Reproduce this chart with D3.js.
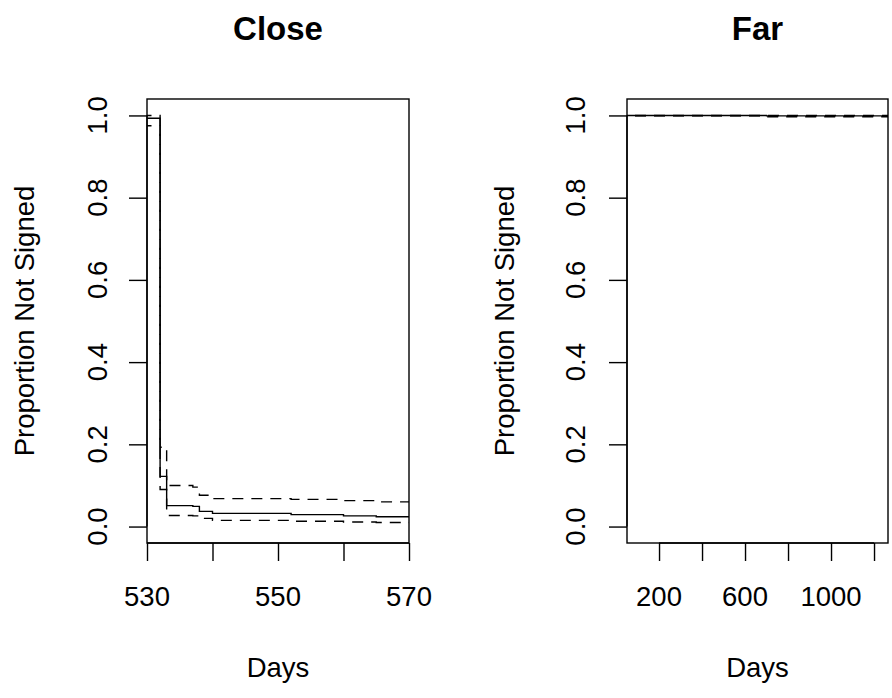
<!DOCTYPE html>
<html>
<head>
<meta charset="utf-8">
<script src="https://cdn.jsdelivr.net/npm/d3@7"></script>
<style>
  body { margin: 0; background: #fff; }
  svg { display: block; }
  text { font-family: "Liberation Sans", Arial, sans-serif; fill: #000; }
</style>
</head>
<body>
<div id="chart"></div>
<script>
// Kaplan-Meier style curves
var closeTime  = [500, 532, 533, 537, 538, 540, 552, 560, 565, 580];
var closeSurv  = [0.993, 0.122, 0.051, 0.049, 0.037, 0.032, 0.029, 0.026, 0.024, 0.024];
var closeUpper = [1.000, 0.193, 0.100, 0.096, 0.076, 0.068, 0.066, 0.063, 0.060, 0.060];
var closeLower = [0.975, 0.090, 0.027, 0.026, 0.020, 0.015, 0.013, 0.011, 0.010, 0.010];

var farTime  = [0, 700, 1400];
var farSurv  = [1.000, 0.999, 0.999];
var farUpper = [1.000, 1.000, 1.000];
var farLower = [0.999, 0.997, 0.996];

var yTicks = [0, 0.2, 0.4, 0.6, 0.8, 1.0];
var closeXTicks = [530, 540, 550, 560, 570];
var closeXLabels = [530, 550, 570];
var farXTicks = [200, 400, 600, 800, 1000, 1200];
var farXLabels = [200, 600, 1000];

var width = 892, height = 698;

var svg = d3.select('#chart').append('svg')
    .attr('width', width)
    .attr('height', height);

var y = d3.scaleLinear().domain([-0.04, 1.04]).range([543, 99]);

var panels = [
    {
        id: 'close', title: 'Close',
        x: d3.scaleLinear().domain([530, 570]).range([147, 409]),
        xTicks: closeXTicks, xLabels: closeXLabels,
        time: closeTime, surv: closeSurv, upper: closeUpper, lower: closeLower,
        tickLabelX: 107, yLabelX: 33.5
    },
    {
        id: 'far', title: 'Far',
        x: d3.scaleLinear().domain([51, 1265]).range([627, 888]),
        xTicks: farXTicks, xLabels: farXLabels,
        time: farTime, surv: farSurv, upper: farUpper, lower: farLower,
        tickLabelX: 585, yLabelX: 513.5
    }
];

var tickLen = 18;
var fontSize = 27.5;

panels.forEach(function(p) {

    var x = p.x;
    var x0 = x.range()[0], x1 = x.range()[1];
    var g = svg.append('g').attr('class', 'panel-' + p.id);

    // clip curves to plot box
    svg.append('clipPath').attr('id', 'clip-' + p.id)
        .append('rect')
        .attr('x', x0).attr('y', 99)
        .attr('width', x1 - x0).attr('height', 543 - 99);

    var line = d3.line()
        .x(function(d) { return x(d[0]); })
        .y(function(d) { return y(d[1]); })
        .curve(d3.curveStepAfter);

    var curves = g.append('g').attr('clip-path', 'url(#clip-' + p.id + ')');

    [p.upper, p.lower].forEach(function(vals) {
        curves.append('path')
            .datum(d3.zip(p.time, vals))
            .attr('d', line)
            .attr('fill', 'none')
            .attr('stroke', '#000')
            .attr('stroke-width', 1.4)
            .attr('stroke-dasharray', '11,8');
    });

    curves.append('path')
        .datum(d3.zip(p.time, p.surv))
        .attr('d', line)
        .attr('fill', 'none')
        .attr('stroke', '#000')
        .attr('stroke-width', 1.4);

    // box
    g.append('rect')
        .attr('x', x0).attr('y', 99)
        .attr('width', x1 - x0).attr('height', 543 - 99)
        .attr('fill', 'none')
        .attr('stroke', '#000')
        .attr('stroke-width', 1.4);

    // x axis
    var xAxis = g.append('g')
        .attr('transform', 'translate(0,543)')
        .call(d3.axisBottom(x).tickValues(p.xTicks).tickSize(tickLen).tickFormat(''));
    xAxis.select('.domain').remove();
    xAxis.selectAll('line').attr('stroke-width', 1.4);
    g.append('line')
        .attr('x1', x(p.xTicks[0])).attr('x2', x(p.xTicks[p.xTicks.length - 1]))
        .attr('y1', 543).attr('y2', 543)
        .attr('stroke', '#000').attr('stroke-width', 1.4);

    g.selectAll('.xlabel')
        .data(p.xLabels).enter()
        .append('text')
        .attr('class', 'xlabel')
        .attr('x', function(d) { return x(d); })
        .attr('y', 606)
        .attr('text-anchor', 'middle')
        .style('font-size', fontSize + 'px')
        .text(function(d) { return d; });

    // y axis
    var yAxis = g.append('g')
        .attr('transform', 'translate(' + x0 + ',0)')
        .call(d3.axisLeft(y).tickValues(yTicks).tickSize(tickLen).tickFormat(''));
    yAxis.select('.domain').remove();
    yAxis.selectAll('line').attr('stroke-width', 1.4);
    g.append('line')
        .attr('x1', x0).attr('x2', x0)
        .attr('y1', y(0)).attr('y2', y(1))
        .attr('stroke', '#000').attr('stroke-width', 1.4);

    g.selectAll('.ylabel')
        .data(yTicks).enter()
        .append('text')
        .attr('class', 'ylabel')
        .attr('transform', function(d) { return 'translate(' + p.tickLabelX + ',' + y(d) + ') rotate(-90)'; })
        .attr('text-anchor', 'middle')
        .style('font-size', fontSize + 'px')
        .text(function(d) { return d3.format('.1f')(d); });

    // titles
    g.append('text')
        .attr('x', (x0 + x1) / 2).attr('y', 40)
        .attr('text-anchor', 'middle')
        .style('font-size', '33px')
        .style('font-weight', 'bold')
        .text(p.title);

    g.append('text')
        .attr('x', (x0 + x1) / 2).attr('y', 677)
        .attr('text-anchor', 'middle')
        .style('font-size', fontSize + 'px')
        .text('Days');

    g.append('text')
        .attr('transform', 'translate(' + p.yLabelX + ',321) rotate(-90)')
        .attr('text-anchor', 'middle')
        .style('font-size', fontSize + 'px')
        .text('Proportion Not Signed');
});
</script>
</body>
</html>
